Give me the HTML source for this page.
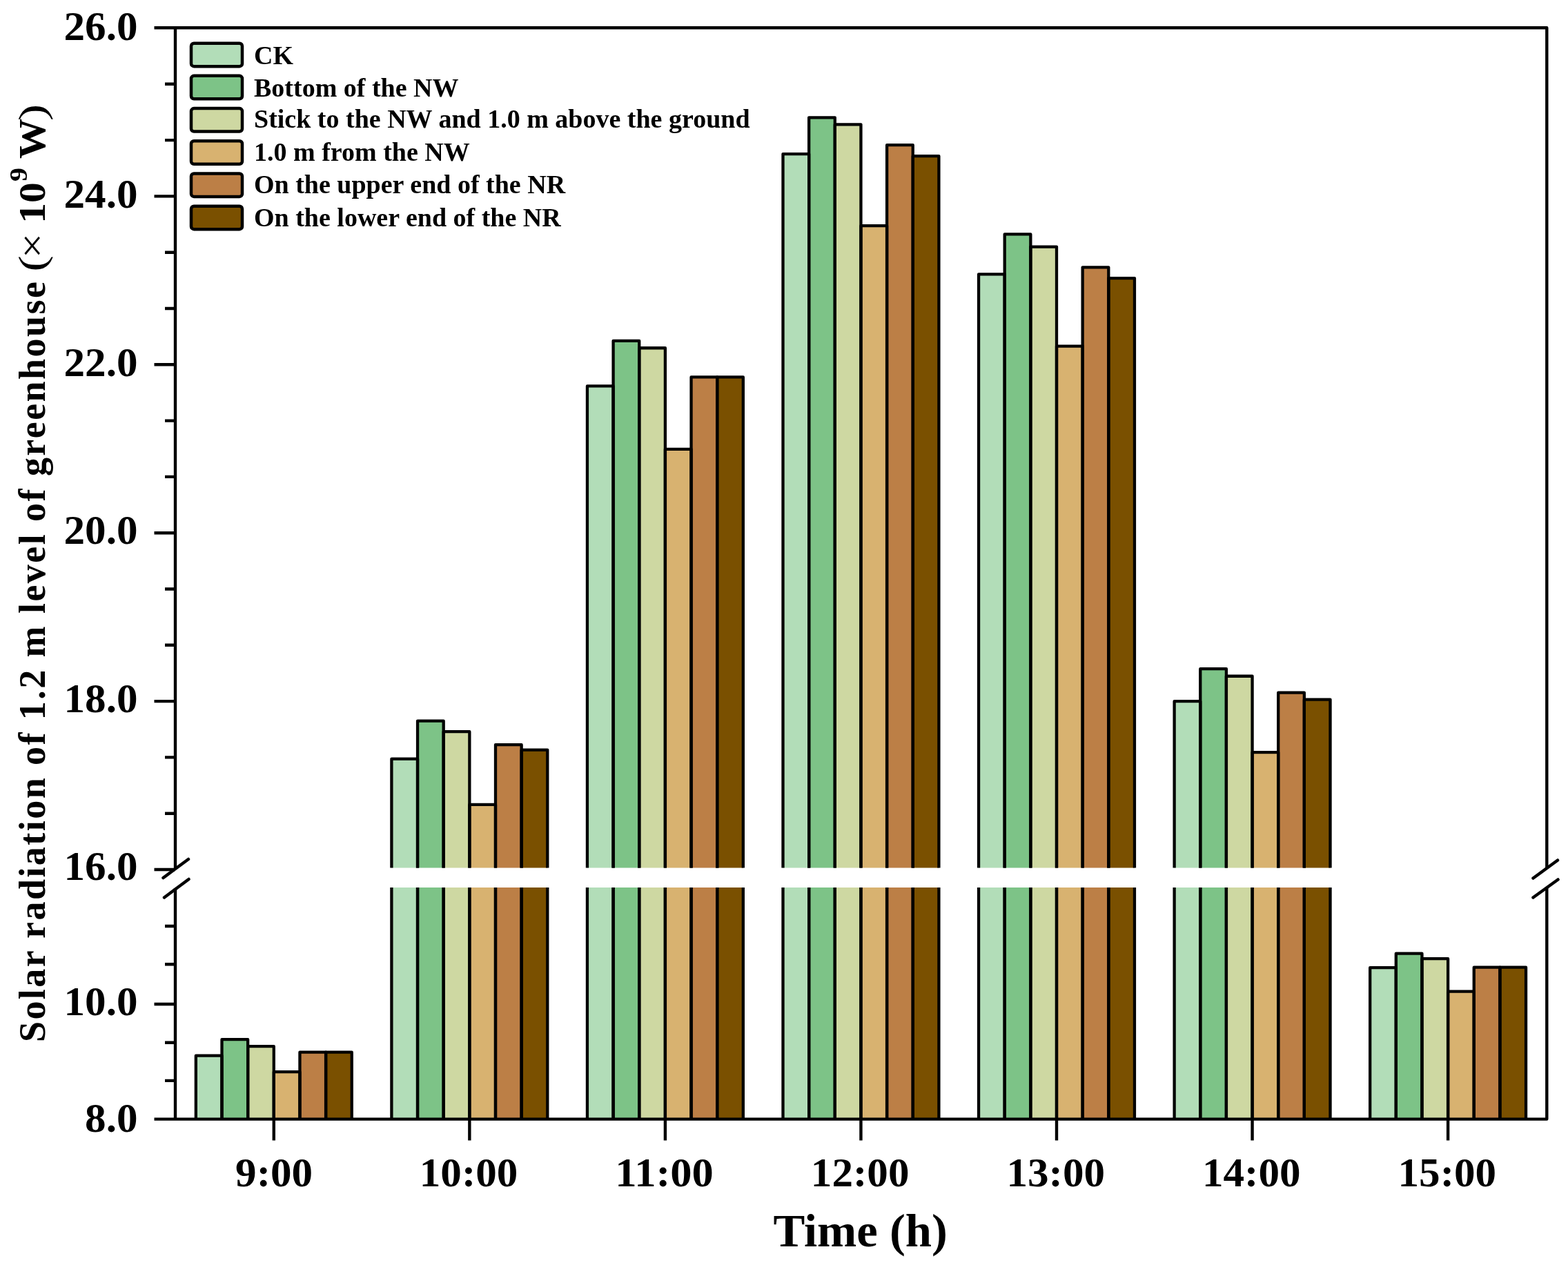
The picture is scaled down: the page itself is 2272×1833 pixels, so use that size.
<!DOCTYPE html>
<html><head><meta charset="utf-8"><style>
html,body{margin:0;padding:0;background:#fff}
svg{display:block}
.bs{fill:none;stroke:#000;stroke-width:4.3;stroke-linejoin:round}
.ax{fill:none;stroke:#000;stroke-width:4.4}
.brk{fill:none;stroke:#000;stroke-width:4.5;stroke-linecap:round}
text{font-family:"Liberation Serif","Times New Roman",serif;font-weight:bold;fill:#000}
.tl{font-size:58.5px}
.tt{font-size:67px}
.yt{font-size:54px}
.yr{font-weight:normal}
.lg{font-size:38px}
</style></head><body>
<svg width="2272" height="1833" viewBox="0 0 2272 1833">
<rect width="2272" height="1833" fill="#fff"/>
<rect x="283.85" y="1529.65" width="37.65" height="91.95" fill="#B2DDB8"/>
<rect x="321.5" y="1506.15" width="37.65" height="115.45" fill="#7DC387"/>
<rect x="359.15" y="1516.15" width="37.65" height="105.45" fill="#CED8A2"/>
<rect x="396.8" y="1553.15" width="37.65" height="68.45" fill="#D8B270"/>
<rect x="434.45" y="1524.65" width="37.65" height="96.95" fill="#BC7F46"/>
<rect x="472.1" y="1524.65" width="37.65" height="96.95" fill="#7A5000"/>
<rect x="567.4" y="1099.65" width="37.65" height="157.85" fill="#B2DDB8"/>
<rect x="567.4" y="1286" width="37.65" height="335.6" fill="#B2DDB8"/>
<rect x="605.05" y="1044.65" width="37.65" height="212.85" fill="#7DC387"/>
<rect x="605.05" y="1286" width="37.65" height="335.6" fill="#7DC387"/>
<rect x="642.7" y="1060.15" width="37.65" height="197.35" fill="#CED8A2"/>
<rect x="642.7" y="1286" width="37.65" height="335.6" fill="#CED8A2"/>
<rect x="680.35" y="1165.9" width="37.65" height="91.6" fill="#D8B270"/>
<rect x="680.35" y="1286" width="37.65" height="335.6" fill="#D8B270"/>
<rect x="718" y="1079.15" width="37.65" height="178.35" fill="#BC7F46"/>
<rect x="718" y="1286" width="37.65" height="335.6" fill="#BC7F46"/>
<rect x="755.65" y="1086.65" width="37.65" height="170.85" fill="#7A5000"/>
<rect x="755.65" y="1286" width="37.65" height="335.6" fill="#7A5000"/>
<rect x="850.95" y="559.45" width="37.65" height="698.05" fill="#B2DDB8"/>
<rect x="850.95" y="1286" width="37.65" height="335.6" fill="#B2DDB8"/>
<rect x="888.6" y="493.95" width="37.65" height="763.55" fill="#7DC387"/>
<rect x="888.6" y="1286" width="37.65" height="335.6" fill="#7DC387"/>
<rect x="926.25" y="504.25" width="37.65" height="753.25" fill="#CED8A2"/>
<rect x="926.25" y="1286" width="37.65" height="335.6" fill="#CED8A2"/>
<rect x="963.9" y="650.85" width="37.65" height="606.65" fill="#D8B270"/>
<rect x="963.9" y="1286" width="37.65" height="335.6" fill="#D8B270"/>
<rect x="1001.55" y="546.45" width="37.65" height="711.05" fill="#BC7F46"/>
<rect x="1001.55" y="1286" width="37.65" height="335.6" fill="#BC7F46"/>
<rect x="1039.2" y="546.45" width="37.65" height="711.05" fill="#7A5000"/>
<rect x="1039.2" y="1286" width="37.65" height="335.6" fill="#7A5000"/>
<rect x="1134.5" y="223.05" width="37.65" height="1034.45" fill="#B2DDB8"/>
<rect x="1134.5" y="1286" width="37.65" height="335.6" fill="#B2DDB8"/>
<rect x="1172.15" y="170.35" width="37.65" height="1087.15" fill="#7DC387"/>
<rect x="1172.15" y="1286" width="37.65" height="335.6" fill="#7DC387"/>
<rect x="1209.8" y="180.35" width="37.65" height="1077.15" fill="#CED8A2"/>
<rect x="1209.8" y="1286" width="37.65" height="335.6" fill="#CED8A2"/>
<rect x="1247.45" y="327.15" width="37.65" height="930.35" fill="#D8B270"/>
<rect x="1247.45" y="1286" width="37.65" height="335.6" fill="#D8B270"/>
<rect x="1285.1" y="210.15" width="37.65" height="1047.35" fill="#BC7F46"/>
<rect x="1285.1" y="1286" width="37.65" height="335.6" fill="#BC7F46"/>
<rect x="1322.75" y="226.15" width="37.65" height="1031.35" fill="#7A5000"/>
<rect x="1322.75" y="1286" width="37.65" height="335.6" fill="#7A5000"/>
<rect x="1418.05" y="397.45" width="37.65" height="860.05" fill="#B2DDB8"/>
<rect x="1418.05" y="1286" width="37.65" height="335.6" fill="#B2DDB8"/>
<rect x="1455.7" y="339.45" width="37.65" height="918.05" fill="#7DC387"/>
<rect x="1455.7" y="1286" width="37.65" height="335.6" fill="#7DC387"/>
<rect x="1493.35" y="357.55" width="37.65" height="899.95" fill="#CED8A2"/>
<rect x="1493.35" y="1286" width="37.65" height="335.6" fill="#CED8A2"/>
<rect x="1531" y="501.55" width="37.65" height="755.95" fill="#D8B270"/>
<rect x="1531" y="1286" width="37.65" height="335.6" fill="#D8B270"/>
<rect x="1568.65" y="387.35" width="37.65" height="870.15" fill="#BC7F46"/>
<rect x="1568.65" y="1286" width="37.65" height="335.6" fill="#BC7F46"/>
<rect x="1606.3" y="403.05" width="37.65" height="854.45" fill="#7A5000"/>
<rect x="1606.3" y="1286" width="37.65" height="335.6" fill="#7A5000"/>
<rect x="1701.6" y="1016.15" width="37.65" height="241.35" fill="#B2DDB8"/>
<rect x="1701.6" y="1286" width="37.65" height="335.6" fill="#B2DDB8"/>
<rect x="1739.25" y="969.15" width="37.65" height="288.35" fill="#7DC387"/>
<rect x="1739.25" y="1286" width="37.65" height="335.6" fill="#7DC387"/>
<rect x="1776.9" y="979.75" width="37.65" height="277.75" fill="#CED8A2"/>
<rect x="1776.9" y="1286" width="37.65" height="335.6" fill="#CED8A2"/>
<rect x="1814.55" y="1090.15" width="37.65" height="167.35" fill="#D8B270"/>
<rect x="1814.55" y="1286" width="37.65" height="335.6" fill="#D8B270"/>
<rect x="1852.2" y="1003.65" width="37.65" height="253.85" fill="#BC7F46"/>
<rect x="1852.2" y="1286" width="37.65" height="335.6" fill="#BC7F46"/>
<rect x="1889.85" y="1013.65" width="37.65" height="243.85" fill="#7A5000"/>
<rect x="1889.85" y="1286" width="37.65" height="335.6" fill="#7A5000"/>
<rect x="1985.15" y="1402.15" width="37.65" height="219.45" fill="#B2DDB8"/>
<rect x="2022.8" y="1381.65" width="37.65" height="239.95" fill="#7DC387"/>
<rect x="2060.45" y="1389.15" width="37.65" height="232.45" fill="#CED8A2"/>
<rect x="2098.1" y="1436.65" width="37.65" height="184.95" fill="#D8B270"/>
<rect x="2135.75" y="1401.65" width="37.65" height="219.95" fill="#BC7F46"/>
<rect x="2173.4" y="1401.65" width="37.65" height="219.95" fill="#7A5000"/>
<path d="M283.85 1621.6V1529.65H321.5V1621.6" class="bs"/>
<path d="M321.5 1621.6V1506.15H359.15V1621.6" class="bs"/>
<path d="M359.15 1621.6V1516.15H396.8V1621.6" class="bs"/>
<path d="M396.8 1621.6V1553.15H434.45V1621.6" class="bs"/>
<path d="M434.45 1621.6V1524.65H472.1V1621.6" class="bs"/>
<path d="M472.1 1621.6V1524.65H509.75V1621.6" class="bs"/>
<path d="M567.4 1257.5V1099.65H605.05V1257.5M567.4 1286V1621.6M605.05 1286V1621.6" class="bs"/>
<path d="M605.05 1257.5V1044.65H642.7V1257.5M605.05 1286V1621.6M642.7 1286V1621.6" class="bs"/>
<path d="M642.7 1257.5V1060.15H680.35V1257.5M642.7 1286V1621.6M680.35 1286V1621.6" class="bs"/>
<path d="M680.35 1257.5V1165.9H718V1257.5M680.35 1286V1621.6M718 1286V1621.6" class="bs"/>
<path d="M718 1257.5V1079.15H755.65V1257.5M718 1286V1621.6M755.65 1286V1621.6" class="bs"/>
<path d="M755.65 1257.5V1086.65H793.3V1257.5M755.65 1286V1621.6M793.3 1286V1621.6" class="bs"/>
<path d="M850.95 1257.5V559.45H888.6V1257.5M850.95 1286V1621.6M888.6 1286V1621.6" class="bs"/>
<path d="M888.6 1257.5V493.95H926.25V1257.5M888.6 1286V1621.6M926.25 1286V1621.6" class="bs"/>
<path d="M926.25 1257.5V504.25H963.9V1257.5M926.25 1286V1621.6M963.9 1286V1621.6" class="bs"/>
<path d="M963.9 1257.5V650.85H1001.55V1257.5M963.9 1286V1621.6M1001.55 1286V1621.6" class="bs"/>
<path d="M1001.55 1257.5V546.45H1039.2V1257.5M1001.55 1286V1621.6M1039.2 1286V1621.6" class="bs"/>
<path d="M1039.2 1257.5V546.45H1076.85V1257.5M1039.2 1286V1621.6M1076.85 1286V1621.6" class="bs"/>
<path d="M1134.5 1257.5V223.05H1172.15V1257.5M1134.5 1286V1621.6M1172.15 1286V1621.6" class="bs"/>
<path d="M1172.15 1257.5V170.35H1209.8V1257.5M1172.15 1286V1621.6M1209.8 1286V1621.6" class="bs"/>
<path d="M1209.8 1257.5V180.35H1247.45V1257.5M1209.8 1286V1621.6M1247.45 1286V1621.6" class="bs"/>
<path d="M1247.45 1257.5V327.15H1285.1V1257.5M1247.45 1286V1621.6M1285.1 1286V1621.6" class="bs"/>
<path d="M1285.1 1257.5V210.15H1322.75V1257.5M1285.1 1286V1621.6M1322.75 1286V1621.6" class="bs"/>
<path d="M1322.75 1257.5V226.15H1360.4V1257.5M1322.75 1286V1621.6M1360.4 1286V1621.6" class="bs"/>
<path d="M1418.05 1257.5V397.45H1455.7V1257.5M1418.05 1286V1621.6M1455.7 1286V1621.6" class="bs"/>
<path d="M1455.7 1257.5V339.45H1493.35V1257.5M1455.7 1286V1621.6M1493.35 1286V1621.6" class="bs"/>
<path d="M1493.35 1257.5V357.55H1531V1257.5M1493.35 1286V1621.6M1531 1286V1621.6" class="bs"/>
<path d="M1531 1257.5V501.55H1568.65V1257.5M1531 1286V1621.6M1568.65 1286V1621.6" class="bs"/>
<path d="M1568.65 1257.5V387.35H1606.3V1257.5M1568.65 1286V1621.6M1606.3 1286V1621.6" class="bs"/>
<path d="M1606.3 1257.5V403.05H1643.95V1257.5M1606.3 1286V1621.6M1643.95 1286V1621.6" class="bs"/>
<path d="M1701.6 1257.5V1016.15H1739.25V1257.5M1701.6 1286V1621.6M1739.25 1286V1621.6" class="bs"/>
<path d="M1739.25 1257.5V969.15H1776.9V1257.5M1739.25 1286V1621.6M1776.9 1286V1621.6" class="bs"/>
<path d="M1776.9 1257.5V979.75H1814.55V1257.5M1776.9 1286V1621.6M1814.55 1286V1621.6" class="bs"/>
<path d="M1814.55 1257.5V1090.15H1852.2V1257.5M1814.55 1286V1621.6M1852.2 1286V1621.6" class="bs"/>
<path d="M1852.2 1257.5V1003.65H1889.85V1257.5M1852.2 1286V1621.6M1889.85 1286V1621.6" class="bs"/>
<path d="M1889.85 1257.5V1013.65H1927.5V1257.5M1889.85 1286V1621.6M1927.5 1286V1621.6" class="bs"/>
<path d="M1985.15 1621.6V1402.15H2022.8V1621.6" class="bs"/>
<path d="M2022.8 1621.6V1381.65H2060.45V1621.6" class="bs"/>
<path d="M2060.45 1621.6V1389.15H2098.1V1621.6" class="bs"/>
<path d="M2098.1 1621.6V1436.65H2135.75V1621.6" class="bs"/>
<path d="M2135.75 1621.6V1401.65H2173.4V1621.6" class="bs"/>
<path d="M2173.4 1621.6V1401.65H2211.05V1621.6" class="bs"/>
<path class="ax" d="M254 40.3V1259M254 1287V1621.6"/>
<path class="ax" d="M223.5 40.3H2241.3V1259M2241.3 1287V1621.6H223.5" stroke-linejoin="round"/>
<path class="ax" d="M223.5 284.4H254M223.5 528.3H254M223.5 772.2H254M223.5 1016.1H254M223.5 1260H254M223.5 1455H254M239 121.8H254M239 203.1H254M239 365.7H254M239 447H254M239 609.6H254M239 690.9H254M239 853.5H254M239 934.8H254M239 1097.4H254M239 1178.7H254M239 1342H254M239 1397.3H254M239 1510.7H254M239 1565.9H254M396.8 1621.6V1652.5M680.35 1621.6V1652.5M963.9 1621.6V1652.5M1247.45 1621.6V1652.5M1531 1621.6V1652.5M1814.55 1621.6V1652.5M2098.1 1621.6V1652.5"/>
<path class="brk" d="M236.5 1272L273 1245M238 1300.5L273.5 1274M2221.5 1272.5L2257 1246.5M2221.5 1300.5L2257.5 1274.5"/>
<text class="tl" x="92.55" y="57.96" textLength="106.98" lengthAdjust="spacingAndGlyphs">26.0</text>
<text class="tl" x="92.55" y="301.21" textLength="106.98" lengthAdjust="spacingAndGlyphs">24.0</text>
<text class="tl" x="92.55" y="544.71" textLength="106.98" lengthAdjust="spacingAndGlyphs">22.0</text>
<text class="tl" x="92.55" y="788.21" textLength="106.98" lengthAdjust="spacingAndGlyphs">20.0</text>
<text class="tl" x="92.55" y="1031.81" textLength="106.98" lengthAdjust="spacingAndGlyphs">18.0</text>
<text class="tl" x="92.55" y="1275.41" textLength="106.98" lengthAdjust="spacingAndGlyphs">16.0</text>
<text class="tl" x="92.55" y="1471.16" textLength="106.98" lengthAdjust="spacingAndGlyphs">10.0</text>
<text class="tl" x="123.11" y="1639.66" textLength="76.42" lengthAdjust="spacingAndGlyphs">8.0</text>
<text class="tl" x="341.1" y="1718.96" textLength="112.06" lengthAdjust="spacingAndGlyphs">9:00</text>
<text class="tl" x="607.76" y="1718.96" textLength="142.62" lengthAdjust="spacingAndGlyphs">10:00</text>
<text class="tl" x="891.31" y="1718.96" textLength="142.62" lengthAdjust="spacingAndGlyphs">11:00</text>
<text class="tl" x="1174.86" y="1718.96" textLength="142.62" lengthAdjust="spacingAndGlyphs">12:00</text>
<text class="tl" x="1458.41" y="1718.96" textLength="142.62" lengthAdjust="spacingAndGlyphs">13:00</text>
<text class="tl" x="1741.96" y="1718.96" textLength="142.62" lengthAdjust="spacingAndGlyphs">14:00</text>
<text class="tl" x="2025.51" y="1718.96" textLength="142.62" lengthAdjust="spacingAndGlyphs">15:00</text>
<text class="tt" x="1120.4" y="1806" textLength="252.5" lengthAdjust="spacingAndGlyphs">Time (h)</text>
<g transform="translate(64.8 1510.1) rotate(-90)"><text class="yt" x="0" y="0" textLength="1102" lengthAdjust="spacing">Solar radiation of 1.2 m level of greenhouse</text><text class="yr" font-size="54" x="1116.49" y="0" textLength="23.21" lengthAdjust="spacingAndGlyphs">(</text><text class="yr" font-size="54" x="1135.58" y="0" textLength="36.88" lengthAdjust="spacingAndGlyphs">×</text><text class="yb" font-size="54" x="1186.37" y="0" textLength="59.65" lengthAdjust="spacingAndGlyphs">10</text><text class="yb" font-size="36.3" x="1247.05" y="-25.6" textLength="20.04" lengthAdjust="spacingAndGlyphs">9</text><text class="yb" font-size="54" x="1280.03" y="0" textLength="58.23" lengthAdjust="spacingAndGlyphs">W</text><text class="yr" font-size="54" x="1335.1" y="0" textLength="24.25" lengthAdjust="spacingAndGlyphs">)</text></g>
<rect x="277" y="62.65" width="74" height="33.5" rx="4" fill="#B2DDB8" stroke="#000" stroke-width="4.5"/>
<text class="lg" x="368" y="92.8">CK</text>
<rect x="277" y="109.85" width="74" height="33.5" rx="4" fill="#7DC387" stroke="#000" stroke-width="4.5"/>
<text class="lg" x="368" y="140.4">Bottom of the NW</text>
<rect x="277" y="157.05" width="74" height="33.5" rx="4" fill="#CED8A2" stroke="#000" stroke-width="4.5"/>
<text class="lg" x="368" y="185">Stick to the NW and 1.0 m above the ground</text>
<rect x="277" y="204.25" width="74" height="33.5" rx="4" fill="#D8B270" stroke="#000" stroke-width="4.5"/>
<text class="lg" x="368" y="232.8">1.0 m from the NW</text>
<rect x="277" y="251.45" width="74" height="33.5" rx="4" fill="#BC7F46" stroke="#000" stroke-width="4.5"/>
<text class="lg" x="368" y="279.8">On the upper end of the NR</text>
<rect x="277" y="298.65" width="74" height="33.5" rx="4" fill="#7A5000" stroke="#000" stroke-width="4.5"/>
<text class="lg" x="368" y="327.5">On the lower end of the NR</text>
</svg>
</body></html>
